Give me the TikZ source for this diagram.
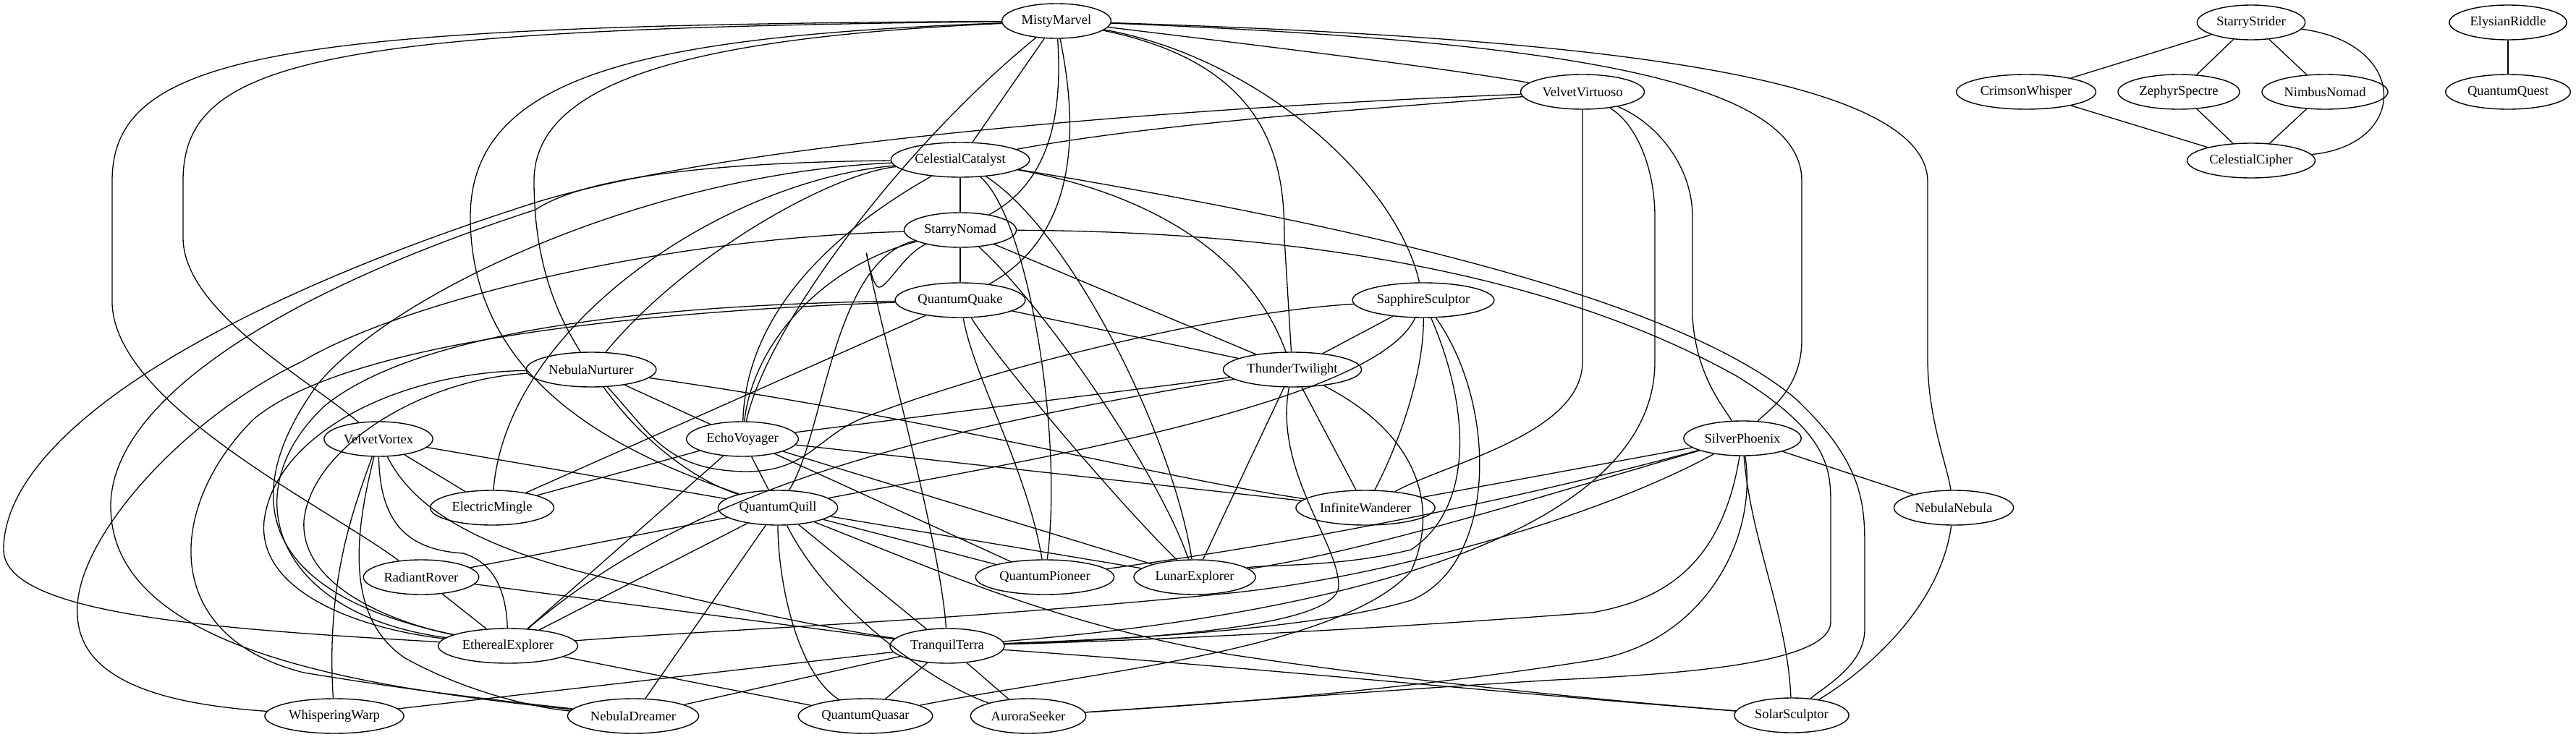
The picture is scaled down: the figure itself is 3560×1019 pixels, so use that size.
\documentclass[tikz,border=0pt]{standalone}
\usepackage{fontspec}
\setmainfont{Liberation Serif}
\usetikzlibrary{shapes.geometric}
\begin{document}
\begin{tikzpicture}[x=1pt,y=-1pt,
  nd/.style={ellipse,draw,line width=1.4pt,minimum height=48pt,inner xsep=5pt,inner ysep=0pt,font=\fontsize{18.5}{20}\selectfont},
  ed/.style={line width=1.3pt}]
\fill[white] (0,0) rectangle (3560,1019);
\useasboundingbox (0,0) rectangle (3560,1019);
% nodes
\node[nd] (MM) at (1460,29) {MistyMarvel};
\node[nd] (VV) at (2187,127) {VelvetVirtuoso};
\node[nd] (CC) at (1327,221) {CelestialCatalyst};
\node[nd] (SN) at (1327,318) {StarryNomad};
\node[nd] (QQk) at (1327,415) {QuantumQuake};
\node[nd] (SS) at (1967,415) {SapphireSculptor};
\node[nd] (NN) at (817,511) {NebulaNurturer};
\node[nd] (TT) at (1786,511) {ThunderTwilight};
\node[nd] (VVx) at (523,607) {VelvetVortex};
\node[nd] (EV) at (1026,607) {EchoVoyager};
\node[nd] (SP) at (2408,606) {SilverPhoenix};
\node[nd] (EM) at (680,702) {ElectricMingle};
\node[nd] (QQl) at (1075,702) {QuantumQuill};
\node[nd] (IW) at (1887,702) {InfiniteWanderer};
\node[nd] (NNb) at (2700,702) {NebulaNebula};
\node[nd] (RR) at (582,798) {RadiantRover};
\node[nd] (QP) at (1444,798) {QuantumPioneer};
\node[nd] (LE) at (1651,798) {LunarExplorer};
\node[nd] (EE) at (702,893) {EtherealExplorer};
\node[nd] (TrT) at (1309,893) {TranquilTerra};
\node[nd] (WW) at (462,990) {WhisperingWarp};
\node[nd] (ND) at (875,990) {NebulaDreamer};
\node[nd] (QQs) at (1196,990) {QuantumQuasar};
\node[nd] (AS) at (1421,990) {AuroraSeeker};
\node[nd] (SoS) at (2476,989) {SolarSculptor};
\node[nd] (StS) at (3111,31) {StarryStrider};
\node[nd] (CW) at (2800,127) {CrimsonWhisper};
\node[nd] (ZS) at (3011,127) {ZephyrSpectre};
\node[nd] (NbN) at (3213,127) {NimbusNomad};
\node[nd] (CCi) at (3111,222) {CelestialCipher};
\node[nd] (ER) at (3466,31) {ElysianRiddle};
\node[nd] (QQt) at (3466,127) {QuantumQuest};
% separate components
\draw[ed] (StS) -- (CW);
\draw[ed] (StS) -- (ZS);
\draw[ed] (StS) -- (NbN);
\draw[ed] (StS) .. controls (3330,60) and (3330,200) .. (CCi);
\draw[ed] (CW) -- (CCi);
\draw[ed] (ZS) -- (CCi);
\draw[ed] (NbN) -- (CCi);
\draw[ed] (ER) -- (QQt);
% MistyMarvel
\draw[ed] (MM) .. controls (1800,70) and (2000,95) .. (VV);
\draw[ed] (MM) -- (CC);
\draw[ed] (MM) .. controls (1468,150) and (1455,250) .. (SN);
\draw[ed] (MM) .. controls (1495,200) and (1480,330) .. (QQk);
\draw[ed] (MM) .. controls (1250,200) and (1060,450) .. (EV);
\draw[ed] (MM) .. controls (1760,90) and (1775,230) .. (1775,330) -- (TT);
\draw[ed] (MM) .. controls (1740,80) and (1930,250) .. (SS);
\draw[ed] (MM) .. controls (2100,55) and (2490,100) .. (2490,250) -- (2490,470) .. controls (2490,540) and (2440,570) .. (SP);
\draw[ed] (MM) .. controls (2100,50) and (2660,90) .. (2664,250) -- (2664,500) .. controls (2665,580) and (2690,640) .. (NNb);
\draw[ed] (MM) .. controls (400,35) and (155,70) .. (155,250) -- (155,420) .. controls (160,560) and (450,700) .. (RR);
\draw[ed] (MM) .. controls (450,40) and (253,80) .. (253,250) -- (253,330) .. controls (255,430) and (420,520) .. (VVx);
\draw[ed] (MM) .. controls (1000,50) and (738,100) .. (738,250) .. controls (738,380) and (780,450) .. (NN);
\draw[ed] (MM) .. controls (900,50) and (650,100) .. (650,300) .. controls (650,550) and (900,640) .. (QQl);
% VelvetVirtuoso
\draw[ed] (VV) .. controls (1900,150) and (1600,170) .. (CC);
\draw[ed] (VV) .. controls (1600,150) and (1000,200) .. (740,280) .. controls (300,420) and (5,600) .. (5,760) .. controls (5,850) and (300,870) .. (EE);
\draw[ed] (VV) -- (2187,500) .. controls (2187,600) and (2000,640) .. (IW);
\draw[ed] (VV) .. controls (2290,170) and (2339,230) .. (2339,300) -- (2339,440) .. controls (2345,520) and (2380,560) .. (SP);
\draw[ed] (VV) .. controls (2260,170) and (2287,230) .. (2287,300) -- (2287,500) .. controls (2287,800) and (1600,870) .. (TrT);
% CelestialCatalyst
\draw[ed] (CC) -- (SN);
\draw[ed] (CC) .. controls (1550,260) and (1720,330) .. (TT);
\draw[ed] (CC) .. controls (1800,300) and (2300,400) .. (2480,550) .. controls (2577,640) and (2577,700) .. (2577,760) -- (2577,870) .. controls (2577,920) and (2520,950) .. (SoS);
\draw[ed] (CC) .. controls (1420,300) and (1470,600) .. (QP);
\draw[ed] (CC) .. controls (1480,320) and (1620,600) .. (LE);
\draw[ed] (CC) .. controls (1000,250) and (700,450) .. (EM);
\draw[ed] (CC) .. controls (1150,240) and (950,350) .. (NN);
\draw[ed] (CC) .. controls (1100,350) and (1030,470) .. (EV);
\draw[ed] (CC) .. controls (900,240) and (550,400) .. (440,530) .. controls (330,680) and (350,820) .. (EE);
\draw[ed] (CC) .. controls (950,225) and (800,250) .. (740,290) .. controls (400,400) and (153,550) .. (153,700) .. controls (153,900) and (500,950) .. (ND);
% StarryNomad
\draw[ed] (SN) -- (QQk);
\draw[ed] (SN) .. controls (1250,350) and (1225,400) .. (1214,397) .. controls (1205,395) and (1195,340) .. (1198,352) .. controls (1215,450) and (1300,750) .. (TrT);
\draw[ed] (SN) -- (TT);
\draw[ed] (SN) .. controls (1800,320) and (2150,380) .. (2400,520) .. controls (2530,600) and (2530,650) .. (2530,700) -- (2530,860) .. controls (2530,920) and (2300,933) .. (2150,940) .. controls (1900,955) and (1650,975) .. (AS);
\draw[ed] (SN) .. controls (1130,370) and (1040,480) .. (EV);
\draw[ed] (SN) .. controls (1150,360) and (1140,600) .. (QQl);
\draw[ed] (SN) .. controls (1440,420) and (1600,650) .. (LE);
\draw[ed] (SN) .. controls (900,330) and (550,420) .. (417,500) .. controls (250,580) and (100,750) .. (107,850) .. controls (110,950) and (250,975) .. (WW);
% QuantumQuake
\draw[ed] (QQk) -- (TT);
\draw[ed] (QQk) .. controls (1345,520) and (1420,650) .. (QP);
\draw[ed] (QQk) .. controls (1380,500) and (1550,700) .. (LE);
\draw[ed] (QQk) -- (EM);
\draw[ed] (QQk) .. controls (1000,420) and (600,440) .. (450,560) .. controls (320,680) and (380,850) .. (EE);
\draw[ed] (QQk) .. controls (900,430) and (480,470) .. (350,580) .. controls (230,700) and (220,880) .. (420,930) .. controls (600,960) and (750,975) .. (ND);
% NebulaNurturer
\draw[ed] (NN) -- (EV);
\draw[ed] (NN) .. controls (880,600) and (950,660) .. (QQl);
\draw[ed] (NN) .. controls (1300,580) and (1600,660) .. (IW);
\draw[ed] (NN) .. controls (550,515) and (380,600) .. (365,720) .. controls (355,820) and (500,870) .. (EE);
\draw[ed] (NN) .. controls (580,525) and (430,620) .. (420,720) .. controls (415,810) and (540,860) .. (EE);
\draw[ed] (NN) .. controls (900,600) and (920,650) .. (1030,652) .. controls (1120,652) and (1130,600) .. (1200,575) .. controls (1400,500) and (1700,430) .. (SS);
% ThunderTwilight
\draw[ed] (TT) -- (EV);
\draw[ed] (TT) .. controls (1250,600) and (950,680) .. (EE);
\draw[ed] (TT) -- (LE);
\draw[ed] (TT) .. controls (1760,650) and (1850,750) .. (1850,810) .. controls (1850,870) and (1550,885) .. (TrT);
\draw[ed] (TT) -- (IW);
\draw[ed] (TT) .. controls (1960,600) and (1990,700) .. (1950,790) .. controls (1850,900) and (1500,930) .. (QQs);
\draw[ed] (SS) -- (TT);
% SapphireSculptor
\draw[ed] (SS) .. controls (1900,560) and (1400,640) .. (QQl);
\draw[ed] (SS) .. controls (1968,520) and (1930,620) .. (IW);
\draw[ed] (SS) .. controls (2030,560) and (2040,700) .. (1950,760) .. controls (1850,785) and (1750,780) .. (LE);
\draw[ed] (SS) .. controls (2070,560) and (2070,780) .. (1950,830) .. controls (1800,875) and (1500,885) .. (TrT);
% InfiniteWanderer
\draw[ed] (IW) -- (SP);
\draw[ed] (EV) -- (IW);
% SilverPhoenix
\draw[ed] (SP) -- (NNb);
\draw[ed] (SP) .. controls (2420,750) and (2470,850) .. (SoS);
\draw[ed] (SP) .. controls (2150,680) and (1900,760) .. (LE);
\draw[ed] (SP) .. controls (2100,690) and (1800,750) .. (QP);
\draw[ed] (SP) .. controls (2200,720) and (1900,800) .. (1700,820) .. controls (1300,860) and (1000,870) .. (EE);
\draw[ed] (SP) .. controls (2380,780) and (2300,830) .. (2200,847) .. controls (1900,870) and (1600,885) .. (TrT);
\draw[ed] (SP) .. controls (2430,750) and (2350,890) .. (2200,913) .. controls (1900,960) and (1650,975) .. (AS);
\draw[ed] (NNb) .. controls (2680,850) and (2560,940) .. (SoS);
% EchoVoyager
\draw[ed] (EV) -- (QQl);
\draw[ed] (EV) -- (LE);
\draw[ed] (EV) -- (QP);
\draw[ed] (EV) -- (EM);
\draw[ed] (EV) -- (EE);
% QuantumQuill
\draw[ed] (QQl) -- (RR);
\draw[ed] (QQl) -- (EE);
\draw[ed] (QQl) -- (ND);
\draw[ed] (QQl) .. controls (1075,800) and (1100,930) .. (QQs);
\draw[ed] (QQl) .. controls (1150,850) and (1300,950) .. (AS);
\draw[ed] (QQl) -- (TrT);
\draw[ed] (QQl) .. controls (1300,790) and (1450,860) .. (1700,905) .. controls (2000,950) and (2300,975) .. (SoS);
\draw[ed] (QQl) -- (QP);
\draw[ed] (QQl) -- (LE);
\draw[ed] (VVx) -- (QQl);
% VelvetVortex
\draw[ed] (VVx) -- (EM);
\draw[ed] (VVx) .. controls (490,700) and (450,800) .. (WW);
\draw[ed] (VVx) .. controls (495,720) and (470,850) .. (560,910) .. controls (650,960) and (750,980) .. (ND);
\draw[ed] (VVx) .. controls (525,720) and (560,760) .. (640,765) .. controls (690,780) and (700,830) .. (EE);
\draw[ed] (VVx) .. controls (570,700) and (650,750) .. (800,790) .. controls (1000,840) and (1150,870) .. (TrT);
% RadiantRover, EtherealExplorer, TranquilTerra
\draw[ed] (RR) -- (TrT);
\draw[ed] (RR) -- (EE);
\draw[ed] (EE) -- (QQs);
\draw[ed] (TrT) -- (WW);
\draw[ed] (TrT) -- (ND);
\draw[ed] (TrT) -- (QQs);
\draw[ed] (TrT) -- (AS);
\draw[ed] (TrT) .. controls (1700,920) and (2100,960) .. (SoS);
\end{tikzpicture}
\end{document}
